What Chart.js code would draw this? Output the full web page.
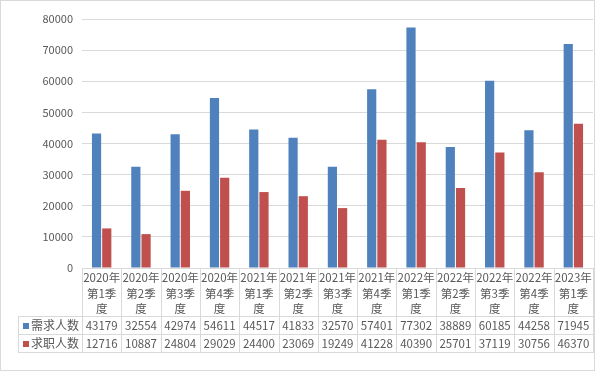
<!DOCTYPE html>
<html><head><meta charset="utf-8">
<script src="https://cdn.jsdelivr.net/npm/chart.js@4/dist/chart.umd.min.js"></script>
<style>html,body{margin:0;padding:0;background:#fff}#wrap{width:596px;height:372px}</style>
</head><body><div id="wrap"><canvas id="c" width="596" height="372"></canvas></div>
<script>
const categories = ["2020年第1季度","2020年第2季度","2020年第3季度","2020年第4季度","2021年第1季度","2021年第2季度","2021年第3季度","2021年第4季度","2022年第1季度","2022年第2季度","2022年第3季度","2022年第4季度","2023年第1季度"];
const seriesNames = ["需求人数","求职人数"];
const demand = [43179,32554,42974,54611,44517,41833,32570,57401,77302,38889,60185,44258,71945];
const seekers = [12716,10887,24804,29029,24400,23069,19249,41228,40390,25701,37119,30756,46370];
const yMin = 0, yMax = 80000, yStep = 10000;
const colors = ["#4F81BD","#C0504D"];

function splitLabel(s){ return [s.slice(0,5), s.slice(5,8), s.slice(8)]; }
const FONT = '"Noto Sans CJK SC", "Microsoft YaHei", sans-serif';
const GRID = '#d9d9d9', TXT = '#595959';

const tablePlugin = {
  id:'dataTable',
  afterDraw(chart){
    const ctx = chart.ctx, x = chart.scales.x, area = chart.chartArea;
    const n = categories.length;
    const step = (x.right - x.left)/n;
    const top = Math.round(area.bottom);
    const r1 = top + 48, r2 = r1 + 18, bot = r2 + 18;
    const legL = 18;
    ctx.save();
    ctx.strokeStyle = GRID; ctx.lineWidth = 1;
    ctx.beginPath();
    for(let i=0;i<=n;i++){
      const xi = Math.round(x.left + i*step) + 0.5;
      ctx.moveTo(xi, top); ctx.lineTo(xi, bot);
    }
    ctx.moveTo(legL+0.5, r1); ctx.lineTo(legL+0.5, bot);
    [r1, r2, bot].forEach(y=>{ ctx.moveTo(legL, y+0.5); ctx.lineTo(Math.round(x.right)+1, y+0.5); });
    ctx.stroke();
    // outer border
    ctx.strokeRect(0.5,0.5,594,370);
    const rows = [demand, seekers];
    ctx.fillStyle = TXT; ctx.textAlign='center'; ctx.textBaseline='middle';
    ctx.font = '11.5px ' + FONT;
    rows.forEach((arr, ri)=>{
      const yc = (ri===0 ? r1 : r2) + 9.5;
      arr.forEach((v,i)=>{ ctx.fillText(String(v), x.getPixelForValue(i), yc); });
    });
    rows.forEach((arr, ri)=>{
      const yc = (ri===0 ? r1 : r2) + 9.5;
      ctx.fillStyle = colors[ri];
      ctx.fillRect(23, Math.round(yc-3), 6, 6);
      ctx.fillStyle = TXT; ctx.textAlign='left';
      ctx.font = '12px ' + FONT;
      ctx.fillText(seriesNames[ri], 31, yc);
    });
    ctx.restore();
  }
};

new Chart(document.getElementById('c'), {
  type:'bar',
  data:{
    labels: categories,
    datasets:[
      {label:seriesNames[0], data:demand, backgroundColor:colors[0], categoryPercentage:0.52, barPercentage:0.9},
      {label:seriesNames[1], data:seekers, backgroundColor:colors[1], categoryPercentage:0.52, barPercentage:0.9}
    ]
  },
  options:{
    responsive:false, animation:false, devicePixelRatio:1,
    layout:{padding:{top:19, right:3, left:0, bottom:56}},
    plugins:{legend:{display:false}, tooltip:{enabled:false}},
    scales:{
      x:{
        grid:{display:false, drawTicks:false},
        border:{display:false},
        ticks:{color:TXT, font:{family:FONT, size:11.5, lineHeight:1.35}, padding:2, autoSkip:false, maxRotation:0, minRotation:0,
          callback:(v,i)=>splitLabel(categories[i])},
        afterFit:(s)=>{ s.height = 48; }
      },
      y:{
        min:yMin, max:yMax,
        grid:{color:GRID, drawTicks:false},
        border:{display:false},
        ticks:{stepSize:yStep, color:TXT, font:{family:FONT, size:11}, padding:9, callback:(v)=>String(v)},
        afterFit:(s)=>{ s.width = 82; }
      }
    }
  },
  plugins:[tablePlugin]
});
</script>
</body></html>
